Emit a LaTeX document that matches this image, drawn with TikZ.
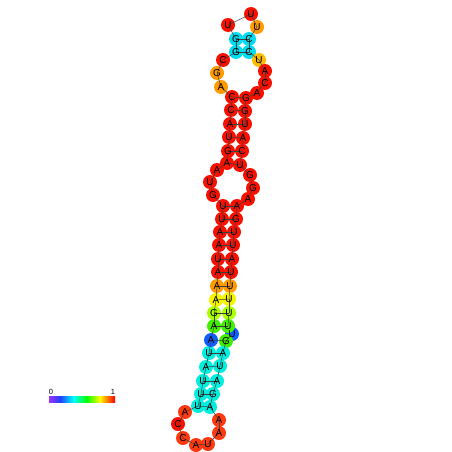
\documentclass[tikz,border=0pt]{standalone}
\usepackage{fontspec}
\setmainfont{Liberation Sans}
\pgfdeclarelayer{bg}
\pgfdeclarelayer{mid}
\pgfsetlayers{bg,mid,main}
\definecolor{rd}{HTML}{F81000}
\definecolor{ro}{HTML}{FF3A10}
\definecolor{or}{HTML}{FF9A00}
\definecolor{gd}{HTML}{FFBB00}
\definecolor{ye}{HTML}{F4F400}
\definecolor{yg}{HTML}{AAFF00}
\definecolor{gr}{HTML}{40F000}
\definecolor{bl}{HTML}{1060FF}
\definecolor{cy}{HTML}{00EEDD}
\definecolor{ct}{HTML}{00DDF0}
\definecolor{vio}{HTML}{A030FF}
\definecolor{sblue}{HTML}{2040FF}
\pgfdeclarehorizontalshading{rainbow}{100bp}{color(0bp)=(vio); color(25bp)=(vio); color(33.5bp)=(sblue); color(43.5bp)=(cyan); color(53.5bp)=(green); color(63.5bp)=(yellow); color(69bp)=(orange); color(75bp)=(red); color(100bp)=(red)}
\begin{document}
\begin{tikzpicture}[x=1pt,y=-1pt,
  nt/.style={circle, inner sep=0pt, minimum size=14pt, font=\fontsize{10}{10}\selectfont},
  bb/.style={draw=black!75, line width=0.5pt},
  lbl/.style={font=\fontsize{7.5}{7.5}\selectfont, inner sep=0pt}]
\useasboundingbox (0,0) rectangle (452,452);
\foreach \i/\x/\y/\l/\c in {
 1/232/334/U/bl, 2/226/341/G/gr, 3/223/353/A/cy, 4/220/366/U/cy, 5/217/381/A/cy,
 6/213/394/G/cy, 7/210/407/A/cy, 8/219/420/A/ro, 9/219/433/A/ro, 10/208/444/U/ro,
 11/196/445/A/ro, 12/183/438/C/ro, 13/178/424/C/rd, 14/185/412/A/ro, 15/198/406/U/cy,
 16/201/394/U/cy, 17/203/381/U/cy, 18/206/367/A/cy, 19/209/353/U/cy, 20/211/340/A/bl,
 21/214/326/A/gr, 22/214/313/G/yg, 23/216/300/A/ye, 24/217/286/A/or, 25/218/272/A/rd,
 26/218/259/U/rd, 27/219/245/A/rd, 28/220/232/A/rd, 29/222/219/U/rd, 30/223/206/U/rd,
 31/213/195/G/rd, 32/210/182/U/rd, 33/217/170/A/rd, 34/227/163/A/rd, 35/228/151/G/rd,
 36/229/137/U/rd, 37/230/124/A/rd, 38/231/110/C/rd, 39/232/97/C/rd, 40/221/87/A/or,
 41/217/73/G/or, 42/223/60/C/rd, 43/236/52/G/ct, 44/236/39/G/ct, 45/228/25/U/rd,
 46/251/14/U/rd, 47/257/27/U/or, 48/249/39/C/ct, 49/249/52/C/ct, 50/259/60/U/gd,
 51/265/71/A/rd, 52/265/83/C/rd, 53/257/93/A/rd, 54/246/98/G/rd, 55/245/111/G/rd,
 56/245/124/U/rd, 57/243/138/A/rd, 58/242/151/C/rd, 59/240/165/U/rd, 60/250/175/G/rd,
 61/253/188/G/rd, 62/248/199/A/rd, 63/237/206/A/rd, 64/236/219/G/rd, 65/234/232/U/rd,
 66/233/245/U/rd, 67/232/259/A/rd, 68/231/272/U/rd, 69/230/286/U/or, 70/229/299/U/ye,
 71/229/313/U/yg, 72/228/326/U/gr}{
  \node[nt] (n\i) at (\x,\y) {\l};
  \begin{pgfonlayer}{bg}\fill[\c] (n\i.center) circle (7pt);\end{pgfonlayer}
}
\begin{pgfonlayer}{mid}
\foreach \i [evaluate=\i as \j using int(\i+1)] in {1,...,71}
  \draw[bb] (n\i.center) -- (n\j.center);
\foreach \a/\b in {7/15,6/16,5/17,4/18,3/19,2/20,72/21,71/22,70/23,69/24,68/25,67/26,
  66/27,65/28,64/29,63/30,59/34,58/35,57/36,56/37,55/38,54/39,49/43,48/44}
  \draw[bb] (n\a.center) -- (n\b.center);
\end{pgfonlayer}
\shade[shading=rainbow] (49,396) rectangle (115,402);
\node[lbl] (zero) at (51,392) {0};
\node[lbl] (one) at (113,392) {1};
\end{tikzpicture}
\end{document}
